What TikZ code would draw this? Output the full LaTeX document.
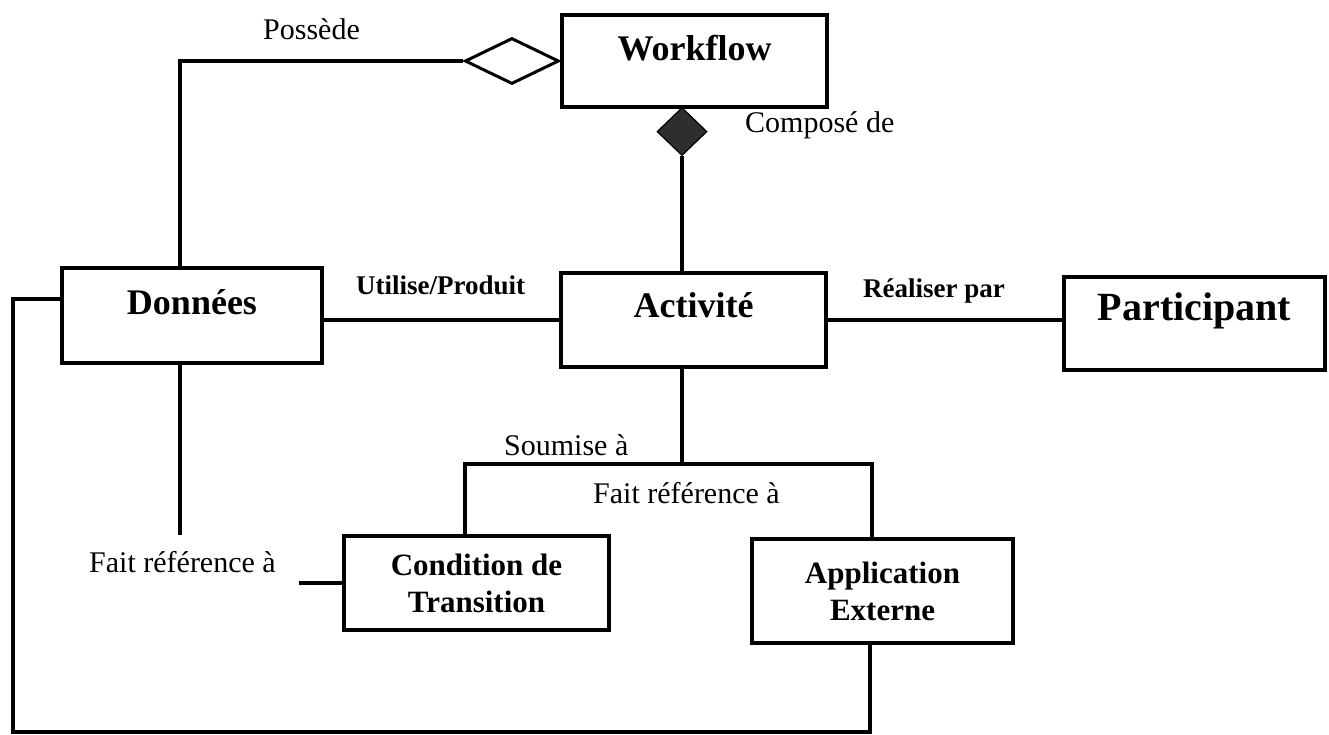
\documentclass[tikz,border=0pt]{standalone}
\usepackage{fontspec}
\setmainfont{Liberation Serif}
\usetikzlibrary{shapes.geometric}

\begin{document}
\begin{tikzpicture}[x=1pt,y=-1pt,
  box/.style={draw, line width=3.2pt, inner sep=0pt, align=center},
  title/.style={font=\fontsize{36}{40}\selectfont\bfseries},
  subtitle/.style={font=\fontsize{31}{37}\selectfont\bfseries},
  conn/.style={line width=3.4pt},
  lbl/.style={inner sep=0pt, anchor=base west, font=\fontsize{30}{34}\selectfont},
  blbl/.style={inner sep=0pt, anchor=base west, font=\fontsize{27}{30}\selectfont\bfseries}]
\useasboundingbox[fill=white] (0,0) rectangle (1329,734);

% classes
\node[box, title, anchor=base, minimum width=265pt, text height=45pt, text depth=47pt] (wf) at (694.5,60) {Workflow};
\node[box, title, anchor=base, minimum width=260pt, text height=46pt, text depth=49pt] (don) at (192,314) {Données};
\node[box, title, anchor=base, minimum width=265pt, text height=44pt, text depth=50pt] (act) at (693.5,317) {Activité};
\node[box, title, anchor=base, minimum width=261pt, text height=43pt, text depth=50pt, font=\fontsize{40}{44}\selectfont\bfseries] (par) at (1194.5,320) {Participant};
\node[box, subtitle, minimum width=265pt, minimum height=94pt] (cond) at (476.5,583) {Condition de\\Transition};
\node[box, subtitle, minimum width=261pt, minimum height=104pt] (app) at (882.5,591) {Application\\Externe};

% aggregation and composition markers
\node[draw, diamond, line width=3pt, fill=white, inner sep=0pt, minimum width=94pt, minimum height=46pt, anchor=east] (agg) at (wf.west) {};
\node[draw, diamond, line width=1.2pt, fill=black!82, inner sep=0pt, minimum width=50pt, minimum height=48pt, anchor=north] (cmp) at (682,107) {};

% bend points
\coordinate (pos) at (180,61);
\coordinate (dstop) at (180,535);
\coordinate (cstart) at (299,583);
\coordinate (fork) at (682,464);
\coordinate (fl) at (465,464);
\coordinate (fr) at (872,464);
\coordinate (lp) at (13,299);
\coordinate (ab) at (870,732);

% connectors
\draw[conn] (agg.west) -- (pos) -- (pos |- don.north);
\draw[conn] (cmp.south) -- (cmp.south |- act.north);
\draw[conn] (act.west -| don.east) -- (act.west);
\draw[conn] (act.east) -- (act.east -| par.west);
\draw[conn] (dstop |- don.south) -- (dstop);
\draw[conn] (cstart) -- (cstart -| cond.west);
\draw[conn] (fork |- act.south) -- (fork);
\draw[conn] (fl |- cond.north) -- (fl) -- (fr) -- (fr |- app.north);
\draw[conn] (lp -| don.west) -- (lp) |- (ab) -- (ab |- app.south);

% association labels
\node[lbl] (lposs) at (263,39) {Possède};
\node[lbl] (lcomp) at (745,132) {Composé de};
\node[blbl] (luti) at (356,294) {Utilise/Produit};
\node[blbl] (lrea) at (863,297) {Réaliser par};
\node[lbl] (lsou) at (504,455) {Soumise à};
\node[lbl] (lfr1) at (593,503) {Fait référence à};
\node[lbl] (lfr2) at (89,572) {Fait référence à};
\end{tikzpicture}
\end{document}
